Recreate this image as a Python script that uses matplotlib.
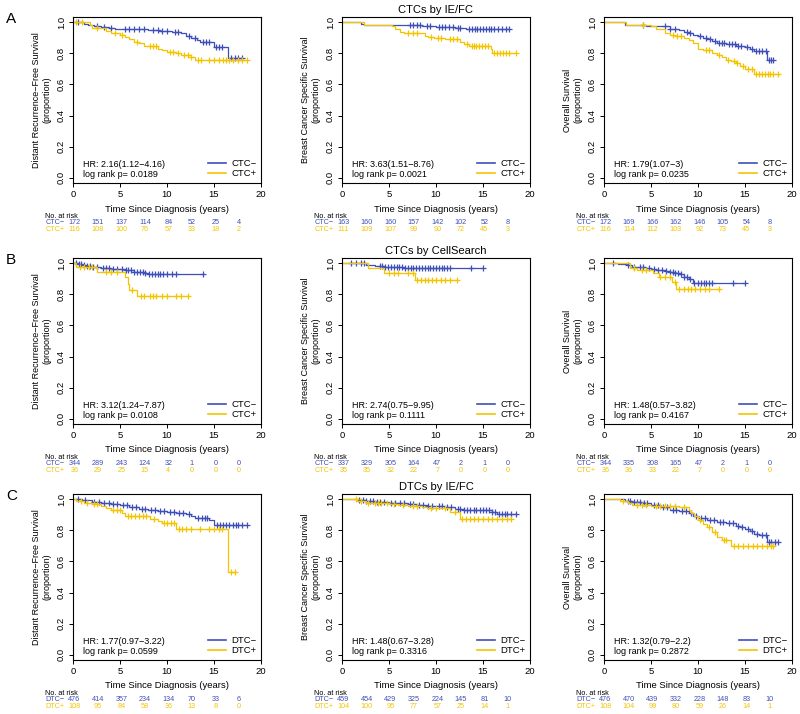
import numpy as np
import matplotlib.pyplot as plt
from matplotlib.lines import Line2D

plt.rcParams['font.family'] = ['Liberation Sans', 'DejaVu Sans']

BLUE = '#3f4fb8'
GOLD = '#f5c400'

# ---- row A : CTCs by IE/FC ----
# drfs
A1_NEG_T = [1.2, 1.6, 2.2, 3.0, 3.8, 4.5, 8.0, 9.2, 10.5, 11.5, 12.0, 12.6, 13.2, 13.5, 15.0, 16.5]
A1_NEG_S = [0.99, 0.985, 0.978, 0.97, 0.963, 0.957, 0.95, 0.945, 0.94, 0.93, 0.915, 0.90, 0.885, 0.875, 0.84, 0.768]
A1_NEG_C = [0.5, 2.5, 3.3, 4.0, 5.5, 6.0, 6.5, 7.0, 7.5, 8.5, 9.0, 9.5, 10.0, 10.8, 11.2, 12.3, 13.0,
            13.8, 14.2, 14.5, 15.2, 15.5, 15.8, 16.8, 17.2, 17.6, 18.0]
A1_POS_T = [1.8, 2.0, 3.5, 4.0, 5.0, 5.5, 6.0, 6.5, 7.0, 7.5, 8.0, 9.0, 9.5, 10.0, 11.0, 11.5, 12.5, 13.0]
A1_POS_S = [0.985, 0.965, 0.945, 0.93, 0.92, 0.905, 0.89, 0.875, 0.865, 0.85, 0.845, 0.83, 0.82, 0.81,
            0.80, 0.79, 0.78, 0.76]
A1_POS_C = [0.3, 1.0, 2.5, 4.5, 5.2, 6.8, 8.2, 8.5, 8.8, 10.3, 10.6, 11.2, 11.8, 12.2, 12.6, 13.3, 13.6,
            14.5, 15.0, 15.5, 16.0, 16.3, 16.6, 17.0, 17.5, 18.0, 18.5]
A1_RISK_NEG = [172, 151, 137, 114, 84, 52, 25, 4]
A1_RISK_POS = [116, 108, 100, 76, 57, 33, 18, 2]
A1_STATS = ['HR: 2.16(1.12−4.16)', 'log rank p= 0.0189']

# bcss
A2_NEG_T = [2.0, 2.3, 8.5, 10.0, 12.0, 13.2]
A2_NEG_S = [0.99, 0.985, 0.978, 0.972, 0.965, 0.957]
A2_NEG_C = [7.2, 7.6, 8.0, 8.3, 9.0, 9.4, 10.3, 10.6, 11.0, 11.4, 11.8, 12.3, 12.6, 13.5, 13.8, 14.1,
            14.4, 14.7, 15.0, 15.3, 15.6, 15.9, 16.2, 16.6, 17.0, 17.4, 17.8]
A2_POS_T = [2.3, 5.3, 5.6, 6.2, 6.6, 8.8, 9.2, 9.8, 11.0, 12.5, 13.0, 13.5, 15.8, 16.0]
A2_POS_S = [0.985, 0.975, 0.955, 0.94, 0.93, 0.915, 0.905, 0.897, 0.89, 0.875, 0.862, 0.85, 0.83, 0.805]
A2_POS_C = [7.0, 7.5, 8.0, 9.5, 10.2, 10.5, 11.5, 11.8, 12.2, 13.3, 13.8, 14.0, 14.3, 14.6, 14.9, 15.2,
            15.5, 16.2, 16.5, 16.8, 17.1, 17.4, 17.8, 18.5]
A2_RISK_NEG = [163, 160, 160, 157, 142, 102, 52, 8]
A2_RISK_POS = [111, 109, 107, 99, 90, 72, 45, 3]
A2_STATS = ['HR: 3.63(1.51−8.76)', 'log rank p= 0.0021']

# os
A3_NEG_T = [2.2, 4.5, 5.0, 7.0, 8.0, 8.5, 9.0, 9.5, 10.0, 10.5, 11.0, 11.5, 12.0, 13.0, 14.0, 15.0,
            15.5, 16.0, 17.3]
A3_NEG_S = [0.985, 0.98, 0.975, 0.96, 0.95, 0.94, 0.93, 0.92, 0.91, 0.90, 0.89, 0.88, 0.87, 0.86, 0.85,
            0.84, 0.83, 0.815, 0.755]
A3_NEG_C = [4.2, 6.5, 7.0, 7.5, 8.8, 9.2, 10.2, 10.8, 11.3, 11.8, 12.2, 12.5, 12.8, 13.3, 13.6, 13.9,
            14.3, 14.6, 15.2, 15.7, 16.2, 16.5, 16.8, 17.2, 17.5, 17.8, 18.0]
A3_POS_T = [2.3, 5.0, 5.5, 6.5, 7.0, 7.5, 8.5, 9.0, 9.5, 10.0, 10.5, 11.5, 12.0, 12.5, 13.0, 13.5,
            14.0, 14.5, 15.0, 16.0]
A3_POS_S = [0.985, 0.975, 0.96, 0.93, 0.92, 0.91, 0.90, 0.885, 0.87, 0.83, 0.82, 0.80, 0.79, 0.78,
            0.76, 0.75, 0.74, 0.72, 0.70, 0.67]
A3_POS_C = [4.2, 7.3, 7.8, 8.2, 10.8, 11.2, 12.2, 13.2, 13.8, 14.2, 14.8, 15.3, 15.7, 16.2, 16.5, 16.8,
            17.1, 17.4, 17.7, 18.0, 18.5]
A3_RISK_NEG = [172, 169, 166, 162, 146, 105, 54, 8]
A3_RISK_POS = [116, 114, 112, 103, 92, 73, 45, 3]
A3_STATS = ['HR: 1.79(1.07−3)', 'log rank p= 0.0235']

# ---- row B : CTCs by CellSearch ----
B1_NEG_T = [0.5, 1.0, 1.5, 2.0, 2.5, 3.0, 4.0, 5.5, 6.5, 7.5, 8.0]
B1_NEG_S = [0.995, 0.99, 0.985, 0.98, 0.975, 0.97, 0.965, 0.955, 0.945, 0.938, 0.932]
B1_NEG_C = [0.3, 0.6, 0.9, 1.2, 1.5, 1.8, 2.1, 2.6, 3.2, 3.5, 3.8, 4.3, 4.7, 5.2, 5.6, 5.9, 6.2, 6.5,
            6.8, 7.1, 7.4, 7.7, 8.1, 8.4, 8.7, 9.0, 9.3, 9.6, 10.0, 10.5, 11.0, 13.8]
B1_POS_T = [0.3, 2.5, 5.5, 5.8, 6.0, 6.8]
B1_POS_S = [0.975, 0.942, 0.91, 0.865, 0.83, 0.787]
B1_POS_C = [0.7, 1.2, 1.7, 2.0, 3.5, 4.0, 4.7, 6.3, 7.2, 7.6, 8.2, 8.5, 8.8, 9.5, 10.0, 11.0, 11.5, 12.2]
B1_RISK_NEG = [344, 289, 243, 124, 32, 1, 0, 0]
B1_RISK_POS = [36, 29, 25, 15, 4, 0, 0, 0]
B1_STATS = ['HR: 3.12(1.24−7.87)', 'log rank p= 0.0108']

B2_NEG_T = [2.5, 3.5, 4.5, 5.5, 6.5, 8.0]
B2_NEG_S = [0.99, 0.985, 0.98, 0.975, 0.972, 0.968]
B2_NEG_C = [1.0, 1.5, 2.0, 2.3, 4.0, 4.3, 4.6, 4.9, 5.2, 5.5, 5.8, 6.1, 6.4, 6.7, 7.0, 7.3, 7.6, 7.9,
            8.2, 8.5, 8.8, 9.1, 9.4, 9.7, 10.0, 10.3, 10.6, 10.9, 11.2, 11.5, 13.7, 15.0]
B2_POS_T = [2.8, 4.5, 7.8]
B2_POS_S = [0.972, 0.941, 0.895]
B2_POS_C = [5.0, 5.5, 6.0, 7.0, 7.5, 8.0, 8.4, 8.8, 9.2, 9.6, 10.0, 10.5, 11.0, 11.5, 12.2]
B2_RISK_NEG = [337, 329, 305, 164, 47, 2, 1, 0]
B2_RISK_POS = [35, 35, 32, 22, 7, 0, 0, 0]
B2_STATS = ['HR: 2.74(0.75−9.95)', 'log rank p= 0.1111']

B3_NEG_T = [1.5, 2.5, 3.0, 3.5, 4.5, 5.0, 5.5, 6.0, 6.5, 7.0, 7.5, 8.0, 8.5, 9.0, 9.5]
B3_NEG_S = [0.995, 0.99, 0.98, 0.975, 0.97, 0.965, 0.96, 0.955, 0.95, 0.945, 0.94, 0.93, 0.915, 0.90, 0.873]
B3_NEG_C = [1.0, 2.5, 3.2, 3.8, 4.2, 4.8, 5.3, 5.7, 6.2, 6.6, 7.0, 7.3, 7.6, 7.9, 8.2, 8.5, 8.8, 9.1,
            9.6, 10.0, 10.3, 10.6, 10.9, 11.2, 11.5, 13.7, 15.0]
B3_POS_T = [2.8, 3.5, 5.2, 5.8, 7.2, 7.7]
B3_POS_S = [0.972, 0.96, 0.94, 0.914, 0.882, 0.836]
B3_POS_C = [3.2, 4.0, 4.5, 6.0, 6.5, 7.0, 7.5, 8.0, 8.5, 8.9, 9.3, 9.7, 10.2, 10.7, 11.2, 12.2]
B3_RISK_NEG = [344, 335, 308, 165, 47, 2, 1, 0]
B3_RISK_POS = [36, 36, 33, 22, 7, 0, 0, 0]
B3_STATS = ['HR: 1.48(0.57−3.82)', 'log rank p= 0.4167']

# ---- row C : DTCs by IE/FC ----
C1_NEG_T = [1.0, 2.0, 3.0, 4.0, 5.0, 6.0, 7.0, 8.0, 9.0, 10.0, 11.0, 12.0, 12.5, 13.0, 14.5, 15.0]
C1_NEG_S = [0.995, 0.985, 0.975, 0.968, 0.962, 0.95, 0.94, 0.93, 0.925, 0.918, 0.91, 0.905, 0.895,
            0.88, 0.87, 0.835]
C1_NEG_C = [0.5, 1.3, 2.2, 2.8, 3.3, 3.8, 4.3, 4.7, 5.3, 5.7, 6.3, 6.7, 7.3, 7.7, 8.3, 8.7, 9.3, 9.7,
            10.3, 10.7, 11.3, 11.7, 12.3, 13.3, 13.7, 14.0, 14.3, 15.3, 15.6, 16.0, 16.3, 16.6, 17.0,
            17.3, 17.6, 18.0, 18.5]
C1_POS_T = [0.3, 1.2, 2.0, 3.0, 3.5, 4.0, 5.2, 5.5, 8.2, 9.0, 9.5, 11.0, 16.5]
C1_POS_S = [0.99, 0.98, 0.97, 0.955, 0.945, 0.935, 0.91, 0.89, 0.875, 0.86, 0.845, 0.81, 0.535]
C1_POS_C = [0.8, 1.5, 2.2, 2.5, 4.3, 4.7, 5.0, 5.8, 6.2, 6.6, 7.0, 7.4, 7.8, 8.6, 9.7, 10.0, 10.4,
            10.7, 11.3, 11.6, 12.0, 12.5, 13.5, 14.5, 15.0, 15.5, 15.8, 16.8, 17.2]
C1_RISK_NEG = [476, 414, 357, 234, 134, 70, 33, 6]
C1_RISK_POS = [108, 95, 84, 58, 36, 13, 8, 0]
C1_STATS = ['HR: 1.77(0.97−3.22)', 'log rank p= 0.0599']

C2_NEG_T = [1.8, 2.5, 3.5, 5.0, 6.0, 7.0, 8.0, 9.0, 10.0, 11.0, 12.0, 13.0, 14.5, 16.0, 16.5]
C2_NEG_S = [0.995, 0.99, 0.985, 0.98, 0.975, 0.97, 0.965, 0.96, 0.955, 0.95, 0.94, 0.935, 0.93, 0.92, 0.908]
C2_NEG_C = [1.8, 2.2, 2.6, 3.0, 3.3, 3.7, 4.0, 4.5, 5.2, 5.6, 6.2, 6.6, 7.2, 7.6, 8.2, 8.6, 9.2, 9.6,
            10.3, 10.6, 11.2, 11.6, 12.3, 12.6, 13.0, 13.3, 13.6, 14.0, 14.3, 14.7, 15.0, 15.3, 15.6,
            16.0, 16.3, 16.7, 17.0, 17.3, 17.6, 18.0, 18.5]
C2_POS_T = [1.6, 2.5, 3.0, 5.0, 6.0, 7.0, 8.5, 9.0, 11.5, 12.5]
C2_POS_S = [0.99, 0.98, 0.975, 0.97, 0.965, 0.96, 0.95, 0.945, 0.918, 0.875]
C2_POS_C = [1.5, 2.0, 2.8, 3.5, 3.8, 4.2, 4.8, 5.5, 6.5, 7.5, 8.0, 9.5, 10.0, 11.0, 12.0, 12.8, 13.2,
            13.6, 14.0, 14.5, 15.0, 15.5, 16.0, 16.5, 17.0, 17.5, 18.0]
C2_RISK_NEG = [459, 454, 429, 325, 224, 145, 81, 10]
C2_RISK_POS = [104, 100, 95, 77, 57, 25, 14, 1]
C2_STATS = ['HR: 1.48(0.67−3.28)', 'log rank p= 0.3316']

C3_NEG_T = [2.2, 3.0, 4.0, 5.0, 6.0, 7.0, 8.0, 9.0, 9.5, 10.0, 11.0, 12.0, 13.0, 14.0, 14.5, 15.0,
            15.5, 16.0, 16.5, 17.3]
C3_NEG_S = [0.99, 0.985, 0.975, 0.965, 0.95, 0.935, 0.925, 0.91, 0.895, 0.88, 0.865, 0.855, 0.845,
            0.83, 0.82, 0.81, 0.795, 0.78, 0.77, 0.725]
C3_NEG_C = [2.5, 2.8, 3.2, 3.5, 3.8, 4.3, 4.6, 5.3, 5.7, 6.3, 6.7, 7.3, 7.7, 8.3, 8.7, 9.3, 9.8, 10.3,
            10.7, 11.3, 11.7, 12.3, 12.7, 13.3, 13.7, 14.3, 14.7, 15.3, 15.7, 16.3, 16.8, 17.2, 17.5,
            17.8, 18.2, 18.5]
C3_POS_T = [1.7, 2.5, 3.0, 5.0, 8.0, 9.0, 9.3, 9.6, 10.0, 10.5, 11.0, 11.5, 12.0, 12.5, 13.5]
C3_POS_S = [0.99, 0.975, 0.965, 0.96, 0.95, 0.935, 0.915, 0.895, 0.87, 0.84, 0.82, 0.79, 0.76, 0.74, 0.70]
C3_POS_C = [2.0, 3.5, 4.0, 4.5, 5.5, 6.0, 6.5, 7.0, 7.5, 8.5, 10.2, 11.2, 11.8, 12.8, 13.0, 13.8, 14.3,
            14.8, 15.3, 15.8, 16.3, 16.8, 17.3, 17.8, 18.0]
C3_RISK_NEG = [476, 470, 439, 332, 228, 148, 83, 10]
C3_RISK_POS = [108, 104, 99, 80, 59, 26, 14, 1]
C3_STATS = ['HR: 1.32(0.79−2.2)', 'log rank p= 0.2872']

risk_times = [0, 2.5, 5, 7.5, 10, 12.5, 15, 17.5]
xticks = [0, 5, 10, 15, 20]
yticks = [0.0, 0.2, 0.4, 0.6, 0.8, 1.0]
ylabels = ['Distant Recurrence−Free Survival\n(proportion)',
           'Breast Cancer Specific Survival\n(proportion)',
           'Overall Survival\n(proportion)']
row_titles = ['CTCs by IE/FC', 'CTCs by CellSearch', 'DTCs by IE/FC']
row_letters = ['A', 'B', 'C']
row_groups = [('CTC−', 'CTC+'), ('CTC−', 'CTC+'), ('DTC−', 'DTC+')]

panels = [
    [(A1_NEG_T, A1_NEG_S, A1_NEG_C, A1_POS_T, A1_POS_S, A1_POS_C, A1_RISK_NEG, A1_RISK_POS, A1_STATS),
     (A2_NEG_T, A2_NEG_S, A2_NEG_C, A2_POS_T, A2_POS_S, A2_POS_C, A2_RISK_NEG, A2_RISK_POS, A2_STATS),
     (A3_NEG_T, A3_NEG_S, A3_NEG_C, A3_POS_T, A3_POS_S, A3_POS_C, A3_RISK_NEG, A3_RISK_POS, A3_STATS)],
    [(B1_NEG_T, B1_NEG_S, B1_NEG_C, B1_POS_T, B1_POS_S, B1_POS_C, B1_RISK_NEG, B1_RISK_POS, B1_STATS),
     (B2_NEG_T, B2_NEG_S, B2_NEG_C, B2_POS_T, B2_POS_S, B2_POS_C, B2_RISK_NEG, B2_RISK_POS, B2_STATS),
     (B3_NEG_T, B3_NEG_S, B3_NEG_C, B3_POS_T, B3_POS_S, B3_POS_C, B3_RISK_NEG, B3_RISK_POS, B3_STATS)],
    [(C1_NEG_T, C1_NEG_S, C1_NEG_C, C1_POS_T, C1_POS_S, C1_POS_C, C1_RISK_NEG, C1_RISK_POS, C1_STATS),
     (C2_NEG_T, C2_NEG_S, C2_NEG_C, C2_POS_T, C2_POS_S, C2_POS_C, C2_RISK_NEG, C2_RISK_POS, C2_STATS),
     (C3_NEG_T, C3_NEG_S, C3_NEG_C, C3_POS_T, C3_POS_S, C3_POS_C, C3_RISK_NEG, C3_RISK_POS, C3_STATS)],
]


def km_curve(ax, t, s, cens, color):
    # step curve from time 0, then "+" at censored times
    end = max(cens[-1], t[-1])
    xs = [0] + list(t) + [end]
    ys = [1.0] + list(s) + [s[-1]]
    ax.step(xs, ys, where='post', color=color, lw=0.9)
    idx = np.searchsorted(t, cens, side='right')
    cy = [1.0 if i == 0 else s[i - 1] for i in idx]
    ax.plot(cens, cy, '+', color=color, ms=4.5, mew=0.9)


W, H = 800, 714
col_x = [73, 342, 604]
row_top = [17, 258, 494]
aw, ah = 188, 166
fs_risk = 5.2

fig = plt.figure(figsize=(8, 7.14), dpi=100)

for r in range(3):
    neg_lab, pos_lab = row_groups[r]
    for c in range(3):
        ax = fig.add_axes([col_x[c] / W, 1 - (row_top[r] + ah) / H, aw / W, ah / H])
        nt, ns, nc, pt, ps, pc, rneg, rpos, stats = panels[r][c]
        km_curve(ax, nt, ns, nc, BLUE)
        km_curve(ax, pt, ps, pc, GOLD)

        ax.set_xlim(0, 20)
        ax.set_ylim(-0.035, 1.035)
        ax.set_xticks(xticks)
        ax.set_yticks(yticks)
        ax.set_yticklabels(['%.1f' % v for v in yticks], rotation=90, va='center')
        ax.tick_params(labelsize=6.8, length=3, width=0.7, pad=2)
        for sp in ax.spines.values():
            sp.set_linewidth(0.8)
        ax.set_xlabel('Time Since Diagnosis (years)', fontsize=6.8, labelpad=4)
        ax.text(-0.165, 0.5, ylabels[c], transform=ax.transAxes, rotation=90,
                ha='center', va='center', fontsize=6.5, multialignment='center')

        ax.text(0.055, 0.114, stats[0], transform=ax.transAxes, fontsize=6.5, va='center')
        ax.text(0.055, 0.054, stats[1], transform=ax.transAxes, fontsize=6.5, va='center')

        handles = [Line2D([], [], color=BLUE, lw=1.2), Line2D([], [], color=GOLD, lw=1.2)]
        ax.legend(handles, [neg_lab, pos_lab], loc='lower right', frameon=False, fontsize=6.8,
                  handlelength=2.0, handletextpad=0.5, labelspacing=0.15,
                  borderaxespad=0.3, borderpad=0.2)

        # number at risk table
        tr = ax.get_xaxis_transform()
        ax.text(-2.95, -0.199, 'No. at risk', transform=tr, fontsize=fs_risk, va='center', ha='left')
        ax.text(-2.95, -0.235, neg_lab, transform=tr, fontsize=fs_risk, va='center', ha='left', color=BLUE)
        ax.text(-2.95, -0.282, pos_lab, transform=tr, fontsize=fs_risk, va='center', ha='left', color=GOLD)
        for k, tt in enumerate(risk_times):
            ax.text(tt + 0.15, -0.235, str(rneg[k]), transform=tr, fontsize=fs_risk, va='center',
                    ha='center', color=BLUE)
            ax.text(tt + 0.15, -0.282, str(rpos[k]), transform=tr, fontsize=fs_risk, va='center',
                    ha='center', color=GOLD)

        if c == 1:
            ax.set_title(row_titles[r], fontsize=8, pad=3)

    fig.text(6 / W, 1 - (row_top[r] + 2) / H, row_letters[r], fontsize=11, ha='left', va='center')

fig.savefig('out.png', dpi=100)
